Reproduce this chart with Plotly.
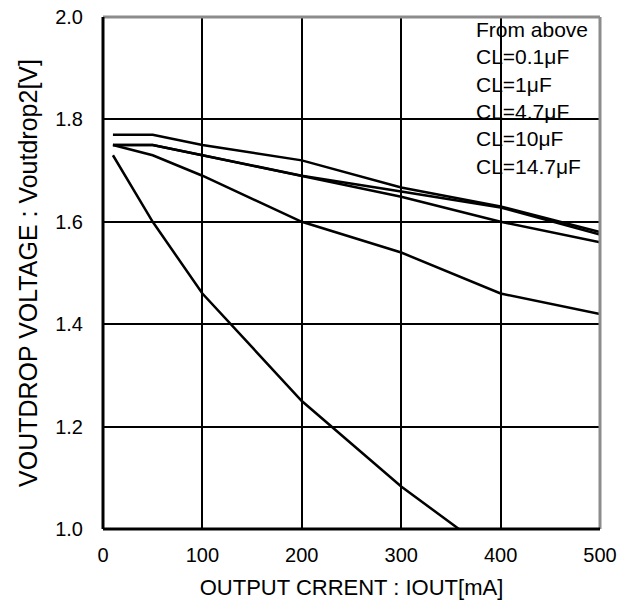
import plotly.graph_objects as go

# output current [mA]
iout = [10, 50, 100, 200, 300, 400, 500]

# voutdrop [V] per load capacitance
v_01uF = [1.77, 1.77, 1.75, 1.72, 1.667, 1.63, 1.58]
v_1uF = [1.75, 1.75, 1.73, 1.69, 1.659, 1.628, 1.575]
v_47uF = [1.75, 1.75, 1.73, 1.69, 1.649, 1.60, 1.56]
v_10uF = [1.75, 1.73, 1.69, 1.60, 1.54, 1.46, 1.42]
v_147uF = [1.73, 1.60, 1.46, 1.25, 1.083, 0.94, None]

series = {
    "CL=0.1μF": v_01uF,
    "CL=1μF": v_1uF,
    "CL=4.7μF": v_47uF,
    "CL=10μF": v_10uF,
    "CL=14.7μF": v_147uF,
}

x_ticks = [0, 100, 200, 300, 400, 500]
y_ticks = [1.0, 1.2, 1.4, 1.6, 1.8, 2.0]
y_tick_text = ["1.0", "1.2", "1.4", "1.6", "1.8", "2.0"]

legend_lines = ["From above"] + list(series.keys())

font_family = "Liberation Sans, Arial, sans-serif"

fig = go.Figure()
for name, vals in series.items():
    fig.add_trace(go.Scatter(
        x=iout, y=vals, mode="lines", name=name,
        line=dict(color="black", width=2.5),
        connectgaps=False,
    ))

# frame: gray top / right, black left / bottom
fig.add_shape(type="line", xref="paper", yref="paper", x0=0, x1=1, y0=1, y1=1,
              line=dict(color="#8c8c8c", width=3), layer="above")
fig.add_shape(type="line", xref="paper", yref="paper", x0=1, x1=1, y0=0, y1=1,
              line=dict(color="#8c8c8c", width=3), layer="above")
fig.add_shape(type="line", xref="paper", yref="paper", x0=0, x1=0, y0=0, y1=1,
              line=dict(color="black", width=3), layer="above")
fig.add_shape(type="line", xref="paper", yref="paper", x0=0, x1=1, y0=0, y1=0,
              line=dict(color="black", width=3), layer="above")

fig.add_annotation(
    xref="paper", yref="paper", x=0.746, y=1.0, yshift=1,
    xanchor="left", yanchor="top", align="left", showarrow=False,
    text="<br>".join(legend_lines),
    font=dict(family=font_family, size=21, color="black"),
)

fig.update_layout(
    width=634, height=614,
    margin=dict(l=103, r=34, t=17, b=85, autoexpand=False),
    paper_bgcolor="white", plot_bgcolor="white",
    showlegend=False,
    font=dict(family=font_family, size=19, color="black"),
)
fig.update_xaxes(
    range=[0, 500], tickvals=x_ticks, automargin=False,
    tickfont=dict(size=20), ticklabeloverflow="allow",
    showgrid=True, gridcolor="black", gridwidth=2,
    showline=False, ticks="", ticklabelstandoff=12, zeroline=False,
    title=dict(text="OUTPUT CRRENT : IOUT[mA]", standoff=14,
               font=dict(size=22)),
)
fig.update_yaxes(
    range=[1.0, 2.0], tickvals=y_ticks, ticktext=y_tick_text, automargin=False,
    tickfont=dict(size=20), ticklabeloverflow="allow",
    showgrid=True, gridcolor="black", gridwidth=2,
    showline=False, ticks="", ticklabelstandoff=19, zeroline=False,
    title=dict(text="VOUTDROP VOLTAGE : Voutdrop2[V]", standoff=10,
               font=dict(size=25)),
)

# drop the default 8px page margin so the figure sits at the window corner
fig.write_html("out.html", config={"displayModeBar": False},
               post_script="document.body.style.margin='0';")
